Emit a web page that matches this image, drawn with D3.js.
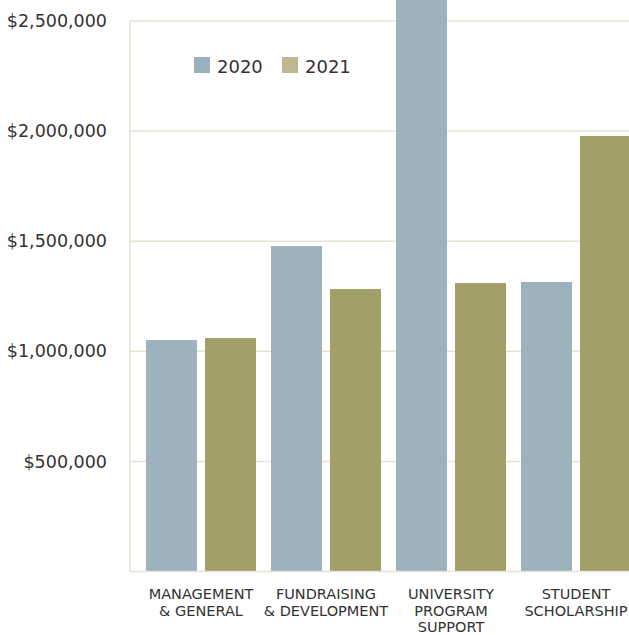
<!DOCTYPE html>
<html>
<head>
<meta charset="utf-8">
<script src="https://cdn.jsdelivr.net/npm/d3@7"></script>
<style>
  body { margin: 0; background: #fff; }
  text { font-family: "DejaVu Sans", sans-serif; fill: #333; }
</style>
</head>
<body>
<svg id="chart" width="629" height="635"></svg>
<script>
// categories and the two years of spending
const categories = ["MANAGEMENT\n& GENERAL", "FUNDRAISING\n& DEVELOPMENT", "UNIVERSITY\nPROGRAM\nSUPPORT", "STUDENT\nSCHOLARSHIP"];
const years = ["2020", "2021"];
const values2020 = [1051000, 1478000, 2750000, 1315000];
const values2021 = [1060000, 1283000, 1310000, 1978000];
const yTicks = [500000, 1000000, 1500000, 2000000, 2500000];

const colors = { "2020": "#9db2bc", "2021": "#a39f68" };
const legendColors = { "2020": "#9bb1bd", "2021": "#bdb98f" };

const svg = d3.select("#chart");
const left = 130, bottom = 571.5, right = 629;

const y = d3.scaleLinear().domain([0, 2500000]).range([bottom, 21]);
const x0 = d3.scaleBand().domain(categories).range([138.5, 638.5]).paddingInner(0.12).paddingOuter(0.06);
const x1 = d3.scaleBand().domain(years).range([0, x0.bandwidth()]).paddingInner(8 / 59);

// gridlines
svg.append("g").selectAll("line").data(yTicks).join("line")
  .attr("x1", left).attr("x2", right)
  .attr("y1", d => y(d)).attr("y2", d => y(d))
  .attr("stroke", "#e6e3d2").attr("stroke-width", 1.5);

// y tick labels
svg.append("g").selectAll("text").data(yTicks).join("text")
  .attr("x", 107).attr("y", d => y(d)).attr("dy", "0.35em")
  .attr("text-anchor", "end").style("font-size", "17.5px")
  .text(d => "$" + d3.format(",")(d));

// bars
const rows = categories.map((c, i) => ({ cat: c, vals: [values2020[i], values2021[i]] }));
const groups = svg.append("g").selectAll("g").data(rows).join("g")
  .attr("transform", d => `translate(${x0(d.cat)},0)`);
groups.selectAll("rect").data(d => years.map((yr, j) => ({ yr, v: d.vals[j] }))).join("rect")
  .attr("x", d => x1(d.yr)).attr("width", x1.bandwidth())
  .attr("y", d => y(d.v)).attr("height", d => bottom - y(d.v))
  .attr("fill", d => colors[d.yr]);

// axes lines
svg.append("line").attr("x1", left).attr("x2", left).attr("y1", 21).attr("y2", bottom)
  .attr("stroke", "#e6e3d2").attr("stroke-width", 1.5);
svg.append("line").attr("x1", left).attr("x2", right).attr("y1", bottom).attr("y2", bottom)
  .attr("stroke", "#e6e3d2").attr("stroke-width", 1.5);

// category labels
const labels = svg.append("g").selectAll("text").data(categories).join("text")
  .attr("x", d => x0(d) + x0.bandwidth() / 2).attr("y", 599)
  .attr("text-anchor", "middle").style("font-size", "14.5px");
labels.selectAll("tspan").data(d => d.split("\n")).join("tspan")
  .attr("x", function () { return this.parentNode.getAttribute("x"); })
  .attr("dy", (d, i) => i === 0 ? 0 : 16.5)
  .text(d => d);

// legend
const legend = svg.append("g").selectAll("g").data(years).join("g")
  .attr("transform", (d, i) => `translate(${194 + i * 88},57)`);
legend.append("rect").attr("width", 16).attr("height", 16).attr("fill", d => legendColors[d]);
legend.append("text").attr("x", 23).attr("y", 16).style("font-size", "18px").text(d => d);
</script>
</body>
</html>
